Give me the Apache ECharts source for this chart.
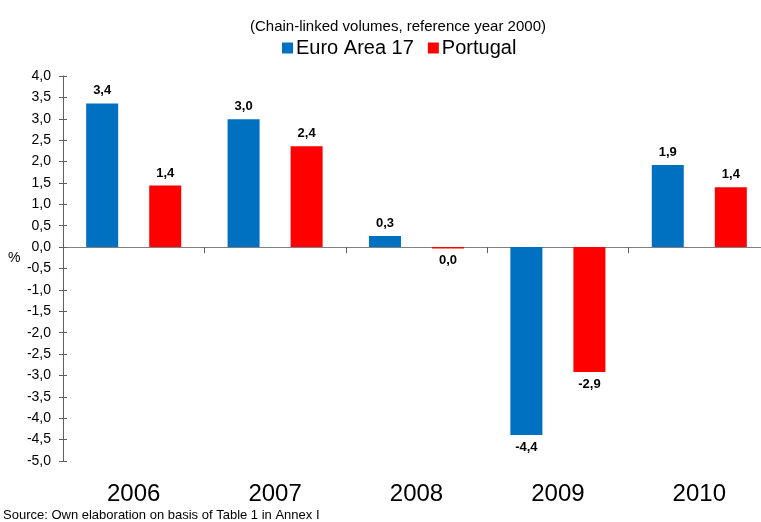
<!DOCTYPE html>
<html>
<head>
<meta charset="utf-8">
<script src="https://cdn.jsdelivr.net/npm/echarts@6/dist/echarts.min.js"></script>
<style>
  html, body { margin: 0; padding: 0; background: #fff; }
  #chart { width: 761px; height: 522px; }
</style>
</head>
<body>
<div id="chart"></div>
<script>
var years = ['2006', '2007', '2008', '2009', '2010']
var euroArea = [3.36, 2.99, 0.26, -4.39, 1.92]
var portugal = [1.44, 2.36, -0.03, -2.92, 1.40]
var seriesNames = ['Euro Area 17', 'Portugal']

var font = "'Liberation Sans', Arial, sans-serif"

function fmt (v) {
  var s = (Math.round(v * 10) / 10).toFixed(1)
  if (s === '-0.0') s = '0.0'
  return s.replace('.', ',')
}

function barData (values) {
  return values.map(function (v) {
    return { value: v, label: { position: v < 0 ? 'bottom' : 'top' } }
  })
}

var chart = echarts.init(document.getElementById('chart'))

var option = {
  animation: false,
  textStyle: { fontFamily: font },
  title: {
    text: '(Chain-linked volumes, reference year 2000)',
    left: 245,
    top: 14,
    textStyle: { fontSize: 15, fontWeight: 'normal', color: '#000', fontFamily: font }
  },
  legend: {
    data: seriesNames,
    left: 277,
    top: 33,
    icon: 'rect',
    itemWidth: 11,
    itemHeight: 11,
    itemGap: 14,
    textStyle: { fontSize: 20, color: '#000', fontFamily: font, padding: [0, 0, 0, -2] }
  },
  grid: { left: 63, top: 76, width: 707, height: 385, containLabel: false, outerBoundsMode: 'none' },
  xAxis: [
    {
      type: 'category',
      data: years,
      axisLine: { onZero: true, lineStyle: { color: '#808080', width: 1 } },
      axisTick: { show: true, length: 6, lineStyle: { color: '#606060' } },
      axisLabel: { show: false }
    },
    {
      type: 'category',
      data: years,
      position: 'bottom',
      axisLine: { show: false, onZero: false },
      axisTick: { show: false },
      axisLabel: { fontSize: 24, color: '#000', margin: 21, fontFamily: font }
    }
  ],
  yAxis: [
    {
      type: 'value',
      min: -5,
      max: 4,
      interval: 0.5,
      axisLine: { show: true, lineStyle: { color: '#606060' } },
      axisTick: { show: true, length: 4, lineStyle: { color: '#606060' } },
      splitLine: { show: false },
      axisLabel: {
        fontSize: 14,
        color: '#000',
        margin: 12,
        fontFamily: font,
        formatter: function (v) { return v.toFixed(1).replace('.', ',') }
      }
    },
    {
      type: 'value',
      min: -5,
      max: 4,
      interval: 0.5,
      position: 'left',
      axisLine: { show: false },
      axisTick: { show: true, inside: true, length: 4, lineStyle: { color: '#606060' } },
      splitLine: { show: false },
      axisLabel: { show: false }
    }
  ],
  series: [
    {
      name: seriesNames[0],
      type: 'bar',
      data: barData(euroArea),
      barWidth: 32,
      barGap: '97%',
      itemStyle: { color: '#0070C0' },
      label: {
        show: true,
        distance: 6,
        fontSize: 13,
        fontWeight: 'bold',
        color: '#000',
        fontFamily: font,
        formatter: function (p) { return fmt(p.value) }
      }
    },
    {
      name: seriesNames[1],
      type: 'bar',
      data: barData(portugal),
      barWidth: 32,
      barGap: '97%',
      itemStyle: { color: '#FF0000' },
      label: {
        show: true,
        distance: 6,
        fontSize: 13,
        fontWeight: 'bold',
        color: '#000',
        fontFamily: font,
        formatter: function (p) { return fmt(p.value) }
      }
    }
  ],
  graphic: [
    {
      type: 'text',
      left: 8,
      top: 251,
      style: { text: '%', fontSize: 14, fill: '#000', fontFamily: font }
    },
    {
      type: 'text',
      left: 3,
      top: 509,
      style: { text: 'Source: Own elaboration on basis of Table 1 in Annex I', fontSize: 13, fill: '#000', fontFamily: font }
    }
  ]
}

chart.setOption(option)
</script>
</body>
</html>
